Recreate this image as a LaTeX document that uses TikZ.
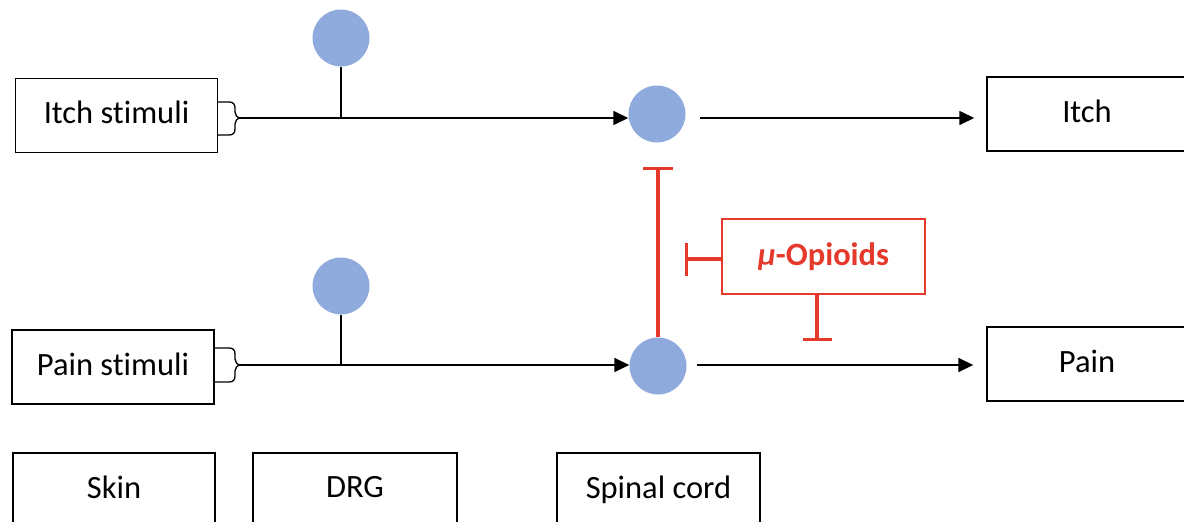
\documentclass[tikz,border=0pt]{standalone}
\usepackage{fontspec}
\setmainfont{Carlito}[Ligatures=NoCommon]
\usetikzlibrary{arrows.meta}
\definecolor{cblue}{RGB}{143,170,220}
\definecolor{ored}{RGB}{229,57,43}
\begin{document}
\begin{tikzpicture}[x=1pt,y=-1pt,
  box/.style={draw=black, line width=1.4pt, rectangle, minimum width=202pt, minimum height=74pt, inner sep=0pt, text depth=6pt, font=\fontsize{32.5}{38}\selectfont},
  neuron/.style={circle, fill=cblue, minimum size=57pt, inner sep=0pt},
  axon/.style={draw=black, line width=1.5pt},
  arr/.style={axon, -{Triangle[length=15pt,width=14pt]}},
  bracepath/.style={draw=black, line width=1.3pt},
  inhib/.style={draw=ored, line width=3.3pt, -{Bar[width=30pt]}},
  opbox/.style={draw=ored, line width=2.5pt, rectangle, minimum width=203pt, minimum height=75pt, inner sep=0pt, text depth=4pt, text=ored, font=\fontsize{32.5}{38}\selectfont\bfseries}
]
\useasboundingbox (0,0) rectangle (1184,522);
\clip (0,0) rectangle (1184,522);

% boxes
\node[box] (itchstim) at (116.5,115.5) {Itch stimuli};
\node[box] (painstim) at (113,367) {Pain stimuli};
\node[box, minimum width=200pt] (itch) at (1087,114) {Itch};
\node[box, minimum width=200pt] (pain) at (1087,364) {Pain};
\node[box] (skin) at (114,490) {Skin};
\node[box, minimum width=204pt] (drg) at (355,490) {DRG};
\node[box, minimum width=203pt] (spinal) at (658.5,490) {Spinal cord};

% neurons
\node[neuron] (drgitch) at (341,38) {};
\node[neuron] (drgpain) at (341,286) {};
\node[neuron] (spitch) at (657,114) {};
\node[neuron] (sppain) at (658,366) {};

% coordinates
\coordinate (itchtip) at (241,118);
\coordinate (paintip) at (241,365);
\coordinate (itchout) at (700,118);
\coordinate (painout) at (697,365);

% braces
\draw[bracepath] (itchtip) .. controls +(-4,0) and +(0,3) .. ++(-6,-6) -- ++(0,-4) .. controls +(0,-4) and +(4,0) .. ++(-6,-6) -- (itchstim.east |- 0,102);
\draw[bracepath] (itchtip) .. controls +(-4,0) and +(0,-3) .. ++(-6,6) -- ++(0,5) .. controls +(0,4) and +(4,0) .. ++(-6,6) -- (itchstim.east |- 0,135);
\draw[bracepath] (paintip) .. controls +(-4,0) and +(0,3) .. ++(-6,-6) -- ++(0,-5) .. controls +(0,-4) and +(4,0) .. ++(-6,-6) -- (painstim.east |- 0,348);
\draw[bracepath] (paintip) .. controls +(-4,0) and +(0,-3) .. ++(-6,6) -- ++(0,5) .. controls +(0,4) and +(4,0) .. ++(-6,6) -- (painstim.east |- 0,382);

% axons
\draw[arr] (itchtip) -- (itchtip -| spitch.west);
\draw[arr] (paintip) -- (paintip -| sppain.west);
\draw[axon] (drgitch.south) -- (drgitch.south |- itchtip);
\draw[axon] (drgpain.south) -- (drgpain.south |- paintip);
\draw[arr, shorten >=12pt] (itchout) -- (itchout -| itch.west);
\draw[arr, shorten >=13pt] (painout) -- (painout -| pain.west);

% opioids
\node[opbox] (opioid) at (823.5,256.5) {{\itshape μ}-Opioids};
\coordinate (bartop) at (657,167);
\coordinate (barleft) at (685,259);
\coordinate (barbot) at (817,341);
\draw[inhib] (sppain.north) -- (sppain.north |- bartop);
\draw[inhib, -{Bar[width=33pt]}] (opioid.west |- barleft) -- (barleft);
\draw[inhib, -{Bar[width=29pt]}] (opioid.south -| barbot) -- (barbot);
\end{tikzpicture}
\end{document}
